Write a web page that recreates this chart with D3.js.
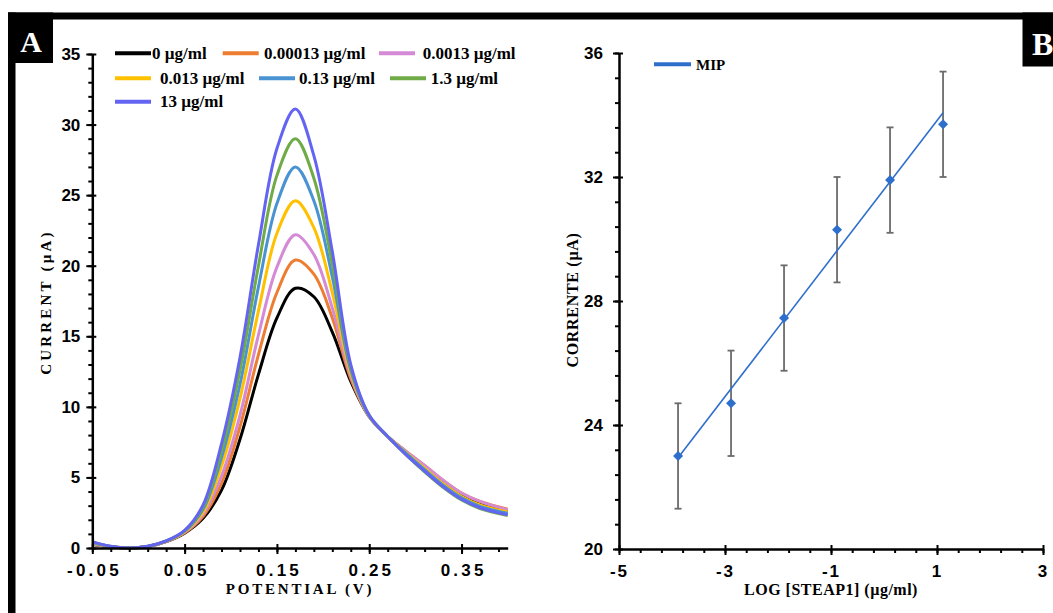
<!DOCTYPE html>
<html>
<head>
<meta charset="utf-8">
<script src="https://cdn.jsdelivr.net/npm/d3@7"></script>
<style>
body { margin: 0; background: #fff; }
svg { display: block; font-family: "Liberation Serif", "Times New Roman", serif; font-weight: bold; }
</style>
</head>
<body>
<div id="chart"></div>
<script>
// ---- panel A : DPV curves (current vs potential) ----
const potentials = [-0.05, -0.03, -0.01, 0.01, 0.03, 0.05, 0.07, 0.09, 0.11, 0.13, 0.15, 0.17,
                    0.19, 0.21, 0.23, 0.25, 0.27, 0.29, 0.31, 0.33, 0.35, 0.37, 0.40];

const cur_0      = [0.25, 0.08, 0, 0.10, 0.45, 1.05, 2.10, 4.1, 7.7, 12.3, 16.3, 18.4, 17.8, 15.3, 11.8, 9.30, 7.90, 6.80, 5.70, 4.60, 3.70, 3.10, 2.60];
const cur_000013 = [0.28, 0.09, 0, 0.10, 0.46, 1.08, 2.25, 4.6, 8.6, 13.7, 18.1, 20.4, 19.4, 16.3, 12.0, 9.30, 7.90, 6.85, 5.85, 4.80, 3.90, 3.30, 2.75];
const cur_00013  = [0.30, 0.09, 0, 0.10, 0.47, 1.11, 2.40, 5.1, 9.4, 15.1, 19.9, 22.2, 20.8, 17.0, 12.2, 9.30, 7.90, 6.85, 5.85, 4.80, 3.90, 3.30, 2.70];
const cur_0013   = [0.35, 0.10, 0, 0.11, 0.48, 1.15, 2.55, 5.8, 10.6, 16.8, 22.3, 24.6, 22.7, 18.1, 12.4, 9.35, 7.90, 6.75, 5.65, 4.55, 3.65, 3.05, 2.55];
const cur_013    = [0.39, 0.11, 0, 0.11, 0.49, 1.19, 2.75, 6.4, 11.6, 18.5, 24.4, 27.0, 24.6, 19.2, 12.6, 9.35, 7.90, 6.70, 5.55, 4.45, 3.55, 2.95, 2.45];
const cur_13     = [0.42, 0.11, 0, 0.12, 0.50, 1.22, 2.90, 6.9, 12.6, 20.0, 26.4, 29.0, 26.2, 20.1, 12.8, 9.40, 7.90, 6.60, 5.40, 4.30, 3.40, 2.80, 2.30];
const cur_130    = [0.45, 0.12, 0, 0.12, 0.50, 1.25, 3.05, 7.4, 13.5, 21.5, 28.3, 31.1, 27.8, 21.0, 13.0, 9.40, 7.90, 6.60, 5.45, 4.35, 3.45, 2.85, 2.35];

const seriesA = [cur_0, cur_000013, cur_00013, cur_0013, cur_013, cur_13, cur_130];
const seriesNames = ["0 µg/ml", "0.00013 µg/ml", "0.0013 µg/ml", "0.013 µg/ml", "0.13 µg/ml", "1.3 µg/ml", "13 µg/ml"];
const seriesColors = ["#000000", "#ed7d31", "#d58ad6", "#ffc000", "#4a93d3", "#6fab46", "#6464f2"];

const ticksAx = [-0.05, 0.05, 0.15, 0.25, 0.35];
const ticksAy = [0, 5, 10, 15, 20, 25, 30, 35];

// ---- panel B : calibration ----
const concB = [0.00013, 0.0013, 0.013, 0.13, 1.3, 13];
const currentB = [23.0, 24.7, 27.45, 30.3, 31.9, 33.7];
const errorB = [1.7, 1.7, 1.7, 1.7, 1.7, 1.7];
const ticksBx = [-5, -3, -1, 1, 3];
const ticksBy = [20, 24, 28, 32, 36];

const W = 1053, H = 613;
const svg = d3.select("#chart").append("svg").attr("width", W).attr("height", H);

// frame
svg.append("rect").attr("x", 8).attr("y", 12.5).attr("width", W - 8).attr("height", 7).attr("fill", "#000");
svg.append("rect").attr("x", 8).attr("y", 12.5).attr("width", 7.5).attr("height", H - 12.5).attr("fill", "#000");
svg.append("rect").attr("x", 8).attr("y", 12.5).attr("width", 45).attr("height", 50.5).attr("fill", "#000");
svg.append("rect").attr("x", 1022.5).attr("y", 12.5).attr("width", W - 1022.5).attr("height", 54).attr("fill", "#000");
svg.append("text").attr("x", 31).attr("y", 52).attr("text-anchor", "middle")
    .attr("fill", "#fff").style("font-size", "30px").text("A");
svg.append("text").attr("x", 1032).attr("y", 55)
    .attr("fill", "#fff").style("font-size", "32px").text("B");

function styleAxis(g, fs, ls) {
    g.select(".domain").attr("stroke", "#000").attr("stroke-width", 2.5);
    g.selectAll(".tick line").attr("stroke", "#000").attr("stroke-width", 2);
    g.selectAll(".tick text").attr("fill", "#000").style("font-size", fs).style("letter-spacing", ls);
}

// ===== panel A =====
const xA = d3.scaleLinear().domain([-0.05, 0.4]).range([92.3, 507.7]);
const yA = d3.scaleLinear().domain([0, 35]).range([548, 54]);

const lineA = d3.line()
    .x(function(d, i) { return xA(potentials[i]); })
    .y(function(d) { return yA(d); })
    .curve(d3.curveCatmullRom.alpha(0.5));

seriesA.forEach(function(s, i) {
    svg.append("path")
        .datum(s)
        .attr("fill", "none")
        .attr("stroke", seriesColors[i])
        .attr("stroke-width", 3)
        .attr("d", lineA);
});

// minor ticks
svg.append("g").attr("transform", `translate(0,${yA(0)})`)
    .call(d3.axisBottom(xA).tickValues(d3.range(0, 23).map(k => -0.05 + k * 0.02)).tickSize(4).tickFormat(""))
    .call(g => { g.select(".domain").remove(); g.selectAll("line").attr("stroke-width", 2); });
svg.append("g").attr("transform", `translate(${xA(-0.05)},0)`)
    .call(d3.axisLeft(yA).tickValues(d3.range(0, 36)).tickSize(4).tickFormat(""))
    .call(g => { g.select(".domain").remove(); g.selectAll("line").attr("stroke-width", 2); });

// major ticks + labels
const gAx = svg.append("g").attr("transform", `translate(0,${yA(0)})`)
    .call(d3.axisBottom(xA).tickValues(ticksAx).tickSize(6).tickSizeOuter(0).tickFormat(d => d.toFixed(2)));
styleAxis(gAx, "17px", "3.2px");
gAx.selectAll(".tick line").attr("y1", -4);
gAx.selectAll(".tick text").attr("y", 16).attr("dx", "1.6px");

const gAy = svg.append("g").attr("transform", `translate(${xA(-0.05)},0)`)
    .call(d3.axisLeft(yA).tickValues(ticksAy).tickSize(6).tickSizeOuter(0));
styleAxis(gAy, "17px", "0px");
gAy.selectAll(".tick line").attr("x1", 4);
gAy.selectAll(".tick text").attr("x", -12);

svg.append("text").attr("x", 300).attr("y", 594).attr("text-anchor", "middle")
    .style("font-size", "15px").style("letter-spacing", "2.8px").text("POTENTIAL (V)");
svg.append("text").attr("transform", "translate(51,302) rotate(-90)").attr("text-anchor", "middle")
    .style("font-size", "15px").style("letter-spacing", "3.2px").text("CURRENT (µA)");

// legend A
const legA = [[115, 152], [222.7, 264], [379, 422.7], [115, 160], [259, 299], [390, 430.7], [115, 160]];
const legRowY = [53.3, 53.3, 53.3, 78.3, 78.3, 78.3, 101.7];
seriesNames.forEach(function(name, i) {
    const lx = legA[i][0], ly = legRowY[i];
    svg.append("line").attr("x1", lx).attr("x2", lx + 36).attr("y1", ly).attr("y2", ly)
        .attr("stroke", seriesColors[i]).attr("stroke-width", 4);
    svg.append("text").attr("x", legA[i][1]).attr("y", ly + 5.5)
        .style("font-size", "17px").text(name);
});

// ===== panel B =====
const xB = d3.scaleLinear().domain([-5, 3]).range([619, 1043]);
const yB = d3.scaleLinear().domain([20, 36]).range([549, 53]);
const blue = "#2f6fcc";
const logC = concB.map(c => Math.log10(c));

// minor ticks
svg.append("g").attr("transform", `translate(0,${yB(20)})`)
    .call(d3.axisBottom(xB).tickValues(d3.range(0, 21).map(k => -5 + k * 0.4)).tickSize(4).tickFormat(""))
    .call(g => { g.select(".domain").remove(); g.selectAll("line").attr("stroke-width", 2); });
svg.append("g").attr("transform", `translate(${xB(-5)},0)`)
    .call(d3.axisLeft(yB).tickValues(d3.range(0, 21).map(k => 20 + k * 0.8)).tickSize(4).tickFormat(""))
    .call(g => { g.select(".domain").remove(); g.selectAll("line").attr("stroke-width", 2); });

const gBx = svg.append("g").attr("transform", `translate(0,${yB(20)})`)
    .call(d3.axisBottom(xB).tickValues(ticksBx).tickSize(6).tickSizeOuter(0).tickFormat(d => String(d)));
styleAxis(gBx, "17px", "2px");
gBx.selectAll(".tick line").attr("y1", -4);
gBx.selectAll(".tick text").attr("y", 16);

const gBy = svg.append("g").attr("transform", `translate(${xB(-5)},0)`)
    .call(d3.axisLeft(yB).tickValues(ticksBy).tickSize(6).tickSizeOuter(0));
styleAxis(gBy, "17px", "0px");
gBy.selectAll(".tick line").attr("x1", 4);
gBy.selectAll(".tick text").attr("x", -16);

svg.append("text").attr("x", 831).attr("y", 595).attr("text-anchor", "middle")
    .style("font-size", "16px").style("letter-spacing", "0.5px").text("LOG [STEAP1] (µg/ml)");
svg.append("text").attr("transform", "translate(578,300) rotate(-90)").attr("text-anchor", "middle")
    .style("font-size", "16px").style("letter-spacing", "0.7px").text("CORRENTE (µA)");

// error bars
const eb = svg.append("g").attr("stroke", "#6b6b6b").attr("stroke-width", 1.8);
currentB.forEach(function(v, i) {
    const x = xB(logC[i]);
    eb.append("line").attr("x1", x).attr("x2", x).attr("y1", yB(v - errorB[i])).attr("y2", yB(v + errorB[i]));
    eb.append("line").attr("x1", x - 3.5).attr("x2", x + 3.5).attr("y1", yB(v - errorB[i])).attr("y2", yB(v - errorB[i]));
    eb.append("line").attr("x1", x - 3.5).attr("x2", x + 3.5).attr("y1", yB(v + errorB[i])).attr("y2", yB(v + errorB[i]));
});

// linear trend line (least squares)
const mx = d3.mean(logC), my = d3.mean(currentB);
const slope = d3.sum(logC, (x, i) => (x - mx) * (currentB[i] - my)) / d3.sum(logC, x => (x - mx) * (x - mx));
const icpt = my - slope * mx;
const x0 = d3.min(logC), x1 = d3.max(logC);
svg.append("line")
    .attr("x1", xB(x0)).attr("y1", yB(icpt + slope * x0))
    .attr("x2", xB(x1)).attr("y2", yB(icpt + slope * x1))
    .attr("stroke", blue).attr("stroke-width", 1.6);

// diamonds
svg.selectAll(".pt").data(currentB).enter().append("path")
    .attr("class", "pt")
    .attr("d", d3.symbol().type(d3.symbolSquare).size(50))
    .attr("transform", (d, i) => `translate(${xB(logC[i])},${yB(d)}) rotate(45)`)
    .attr("fill", blue);

// legend B
svg.append("line").attr("x1", 654).attr("x2", 691).attr("y1", 64.3).attr("y2", 64.3)
    .attr("stroke", blue).attr("stroke-width", 4);
svg.append("text").attr("x", 696).attr("y", 69.5).style("font-size", "15px").text("MIP");
</script>
</body>
</html>
